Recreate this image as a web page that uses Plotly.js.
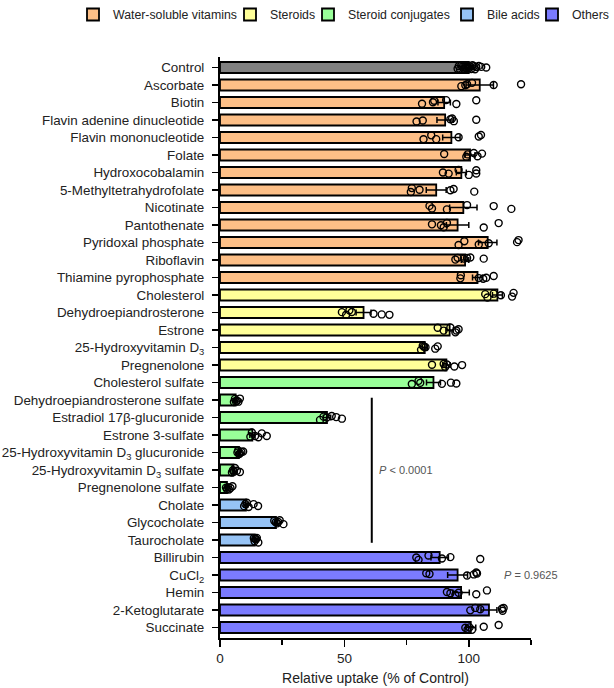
<!DOCTYPE html>
<html>
<head>
<meta charset="utf-8">
<script src="https://cdn.plot.ly/plotly-3.0.1.min.js"></script>
<style>html,body{margin:0;padding:0;background:#fff;}#chart{width:614px;height:688px;}</style>
</head>
<body>
<div id="chart"></div>
<script>
const categories = ["Control","Ascorbate","Biotin","Flavin adenine dinucleotide","Flavin mononucleotide","Folate","Hydroxocobalamin","5-Methyltetrahydrofolate","Nicotinate","Pantothenate","Pyridoxal phosphate","Riboflavin","Thiamine pyrophosphate","Cholesterol","Dehydroepiandrosterone","Estrone","25-Hydroxyvitamin D<sub>3</sub>","Pregnenolone","Cholesterol sulfate","Dehydroepiandrosterone sulfate","Estradiol 17β-glucuronide","Estrone 3-sulfate","25-Hydroxyvitamin D<sub>3</sub> glucuronide","25-Hydroxyvitamin D<sub>3</sub> sulfate","Pregnenolone sulfate","Cholate","Glycocholate","Taurocholate","Billirubin","CuCl<sub>2</sub>","Hemin","2-Ketoglutarate","Succinate"];

const groups = ["Control","Water-soluble vitamins","Water-soluble vitamins","Water-soluble vitamins","Water-soluble vitamins","Water-soluble vitamins","Water-soluble vitamins","Water-soluble vitamins","Water-soluble vitamins","Water-soluble vitamins","Water-soluble vitamins","Water-soluble vitamins","Water-soluble vitamins","Steroids","Steroids","Steroids","Steroids","Steroids","Steroid conjugates","Steroid conjugates","Steroid conjugates","Steroid conjugates","Steroid conjugates","Steroid conjugates","Steroid conjugates","Bile acids","Bile acids","Bile acids","Others","Others","Others","Others","Others"];

const means = [100,104.4,90.1,90.5,93,100.5,97,86.9,97.8,95.5,107.6,98.5,103.5,111.5,57.7,92.3,82.3,91,85.8,6.3,43,13,7.6,5.4,2.8,10.4,22.5,14,88.3,95.5,96.9,108.1,100.8];

const sems = [0.8,5.5,2.5,3.3,3.5,2,2,4,5.5,4.5,3.7,1.5,2,2,3,1.5,1,1.5,2.8,0.5,1.5,1,0.4,0.5,0.5,0.8,0.5,0.3,3.5,4,3.3,3.2,2];

const points = [
  [95.5,96,96.5,97,97.5,98,98.5,99,99.5,100,100,100.5,101,101.5,102,102.5,103,104,105,107],
  [97,98.6,99.3,101.3,110,121],
  [81.2,85.6,86.1,90.9,95,103],
  [79,81.5,92.6,93.3,94,103],
  [81.8,84.9,86.9,95.9,104,104.9],
  [90.1,99,99.5,102,103.5,105.3],
  [89.6,91.9,95.9,100,103,103],
  [76.7,77.1,80.2,92.6,93.9,102.2],
  [84.2,85.2,91.2,99.3,110,117.1],
  [85.2,88.8,89.9,91.2,106,112],
  [95.9,98.2,104,108,119.4,120],
  [94.6,95.5,98,99.3,100.6,106],
  [96.6,96.8,104,105.8,107,110],
  [106.6,107.5,110,112.9,117.4,118],
  [49,50.7,52,53,61.7,65,68.1],
  [87.5,89.9,92.6,94.6,95,95.9],
  [80.8,81.5,82,82.6,86.5,87.5],
  [85.2,89.9,90.5,91.2,94.2,97.3],
  [77.1,79.8,80.5,89.2,92.8,95],
  [5.6,6,6.4,6.8,7.4,8],
  [40.2,41.6,42.9,44.9,46.7,49],
  [12.2,12.8,14.1,15.4,16.8,18.8],
  [7,7.3,7.7,8,8.6,9.3],
  [4.8,5.2,5.6,6,6.8,8],
  [2.4,2.8,3.2,3.6,4.2,5],
  [9.7,10.2,10.8,11.5,13.5,15.3],
  [21.8,22.4,23,23.4,24,25.5],
  [13.6,13.9,14.2,14.5,14.8,15.4],
  [78.9,79.8,83.8,89.2,92.6,104.6],
  [82.9,84.2,99.3,102,103,103.3],
  [91.2,92.6,94.6,95.9,103,107.3],
  [100.6,102.6,104.6,113.3,113.6,114],
  [98.6,99.5,100.3,101.3,106,112]
];

const groupNames = ["Control","Water-soluble vitamins","Steroids","Steroid conjugates","Bile acids","Others"];
const groupColors = ["#808080","#FDBF87","#FFFF99","#99FF99","#96C3F5","#7B7BFF"];
const legendIds = [null,"legend","legend2","legend3","legend4","legend5"];
const legendLeftPx = [null,73,230,308,447,532];

const FONT = "Liberation Sans, Arial, Helvetica, sans-serif";
const W = 614, H = 688;

const traces = [];
groupNames.forEach((g, gi) => {
  const ys = [], xs = [], es = [];
  categories.forEach((c, i) => {
    if (groups[i] === g) { ys.push(c); xs.push(means[i]); es.push(sems[i]); }
  });
  const t = {
    type: 'bar', orientation: 'h', name: g, y: ys, x: xs, width: 0.63,
    marker: {color: groupColors[gi], line: {color: '#000', width: 1.8}},
    error_x: {type: 'data', array: es, visible: true, color: '#000', thickness: 1.5, width: 3},
    showlegend: gi > 0, hoverinfo: 'x+y'
  };
  if (gi > 0) t.legend = legendIds[gi];
  traces.push(t);
});

const flatX = [], flatY = [];
points.forEach((arr, i) => arr.forEach(v => { flatX.push(v); flatY.push(categories[i]); }));
traces.push({
  type: 'box', orientation: 'h', x: flatX, y: flatY,
  boxpoints: 'all', jitter: 0.6, pointpos: 0,
  fillcolor: 'rgba(0,0,0,0)', line: {width: 0, color: 'rgba(0,0,0,0)'},
  marker: {symbol: 'circle-open', size: 7, color: '#000', line: {width: 1.4}},
  showlegend: false, hoverinfo: 'x'
});

const layout = {
  width: W, height: H,
  margin: {l: 220, r: 83, t: 57, b: 50, autoexpand: false},
  paper_bgcolor: '#fff', plot_bgcolor: '#fff',
  font: {family: FONT, color: '#222'},
  barmode: 'overlay', boxmode: 'overlay',
  xaxis: {
    range: [0, 125], tick0: 0, dtick: 50,
    ticks: 'outside', ticklen: 7, tickwidth: 1.5, tickcolor: '#000',
    minor: {dtick: 25, ticks: 'outside', ticklen: 5, tickwidth: 1.5, tickcolor: '#000', showgrid: false},
    showline: true, linewidth: 2, linecolor: '#000',
    showgrid: false, zeroline: false,
    tickfont: {family: FONT, size: 13.5, color: '#222'},
    title: {text: 'Relative uptake (% of Control)', font: {family: FONT, size: 14, color: '#222'}, standoff: 8}
  },
  yaxis: {
    type: 'category', categoryorder: 'array', categoryarray: categories,
    tickmode: 'array', tickvals: categories, ticktext: categories,
    range: [32.6, -0.6],
    ticks: 'outside', ticklen: 6, tickwidth: 1.5, tickcolor: '#000',
    showline: true, linewidth: 2, linecolor: '#000',
    showgrid: false, zeroline: false, ticklabelstandoff: 5,
    tickfont: {family: FONT, size: 13.4, color: '#222'}
  },
  shapes: [
    {type: 'line', xref: 'x', yref: 'y', x0: 61, x1: 61, y0: 18.87, y1: 27.16, line: {color: '#000', width: 2}}
  ],
  annotations: [
    {xref: 'x', yref: 'y', x: 63, y: 23, xanchor: 'left', yanchor: 'middle', showarrow: false,
     text: '<i>P</i> &lt; 0.0001', font: {family: FONT, size: 11, color: '#555'}},
    {xref: 'x', yref: 'y', x: 113.4, y: 29, xanchor: 'left', yanchor: 'middle', showarrow: false,
     text: '<i>P</i> = 0.9625', font: {family: FONT, size: 11, color: '#555'}}
  ]
};

for (let gi = 1; gi < legendIds.length; gi++) {
  layout[legendIds[gi]] = {
    orientation: 'h', xref: 'container', yref: 'container',
    x: legendLeftPx[gi] / W, xanchor: 'left', y: 1, yanchor: 'top',
    font: {family: FONT, size: 12.3, color: '#222'},
    bgcolor: 'rgba(0,0,0,0)', borderwidth: 0, itemwidth: 30
  };
}

Plotly.newPlot('chart', traces, layout, {displayModeBar: false, staticPlot: true});
</script>
</body>
</html>
